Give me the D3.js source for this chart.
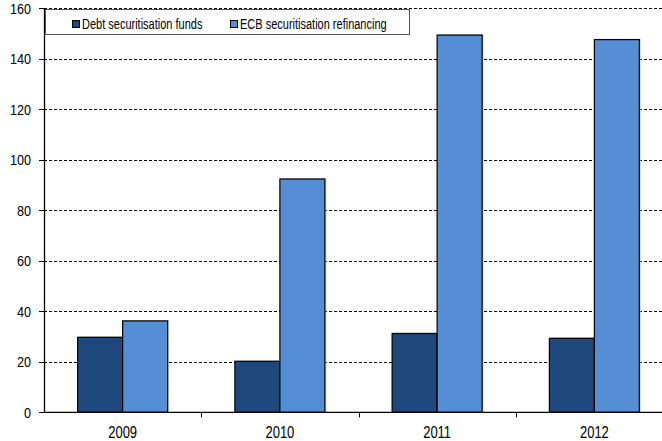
<!DOCTYPE html>
<html><head><meta charset="utf-8">
<script src="https://cdn.jsdelivr.net/npm/d3@7"></script>
<style>body{margin:0;background:#fff}svg{display:block;font-family:"Liberation Sans",Arial,sans-serif}</style>
</head><body><svg id="c" width="662" height="441"></svg>
<script>
const categories = ["2009","2010","2011","2012"];
const seriesNames = ["Debt securitisation funds","ECB securitisation refinancing"];
const debtFunds = [29.7, 20.2, 31.2, 29.3];
const ecbRefinancing = [36.2, 92.4, 149.4, 147.6];
const yTicks = [0,20,40,60,80,100,120,140,160];
const colors = ["#1f497d","#558ed5"];

const svg = d3.select("#c");
const x = d3.scaleBand().domain(categories).range([44, 673]);
const y = d3.scaleLinear().domain([0,160]).range([412.3, 8.3]);
const x1 = d3.scaleBand().domain([0,1]).range([0, 90]);
const series = [debtFunds, ecbRefinancing];

function stretchedText(g, tx, ty, str, size, anchor, sy){
  return g.append("text").attr("transform",`translate(${tx},${ty}) scale(1,${sy})`)
    .attr("font-size",size).attr("text-anchor",anchor).attr("fill","#000").text(str);
}

// gridlines
svg.append("g").selectAll("line").data(yTicks.filter(d=>d>0)).join("line")
  .attr("x1",44).attr("x2",662).attr("y1",d=>Math.round(y(d))+0.5).attr("y2",d=>Math.round(y(d))+0.5)
  .attr("stroke","#000").attr("stroke-width",1).attr("stroke-dasharray","3,2");

// bars
categories.forEach((c,i)=>{
  const gx = x(c) + (x.bandwidth()-90)/2;
  series.forEach((s,j)=>{
    const bx = gx + x1(j), by = y(s[i]), bw = x1.bandwidth(), bh = y(0)-y(s[i]);
    svg.append("rect").attr("x",bx+1.5).attr("y",by-1).attr("width",bw).attr("height",bh+1)
      .attr("fill","#bbb").attr("opacity",0.6);
    svg.append("rect").attr("x",bx).attr("y",by).attr("width",bw).attr("height",bh)
      .attr("fill",colors[j]).attr("stroke","#000").attr("stroke-width",1.2);
  });
});

// y axis
const gy = svg.append("g");
gy.append("line").attr("x1",44.5).attr("x2",44.5).attr("y1",y(160)).attr("y2",y(0)).attr("stroke","#000").attr("stroke-width",1.3);
yTicks.forEach(t=>{
  const py = Math.round(y(t))+0.5;
  gy.append("line").attr("x1",39).attr("x2",44.5).attr("y1",py).attr("y2",py).attr("stroke","#000");
  stretchedText(gy, 31, y(t)+5.3, String(t), 12.6, "end", 1.22);
});

// x axis
const gxa = svg.append("g").attr("transform",`translate(0,${y(0)})`);
gxa.append("line").attr("x1",44).attr("x2",662).attr("stroke","#000").attr("stroke-width",1.3);
categories.slice(1).forEach(d=>{
  const px = Math.round(x(d))+0.5;
  gxa.append("line").attr("x1",px).attr("x2",px).attr("y1",0).attr("y2",5).attr("stroke","#000");
});
categories.forEach(d=>{
  stretchedText(svg, x(d)+x.bandwidth()/2, 438.2, d, 13, "middle", 1.3);
});

// legend
const lg = svg.append("g");
lg.append("rect").attr("x",45.5).attr("y",9.5).attr("width",364).attr("height",25)
  .attr("fill","#fff").attr("stroke","#555").attr("stroke-width",1);
const items = [{n:seriesNames[0],x:72,c:colors[0]},{n:seriesNames[1],x:230,c:colors[1]}];
items.forEach(it=>{
  lg.append("rect").attr("x",it.x+0.5).attr("y",20.5).attr("width",7).attr("height",7)
    .attr("fill",it.c).attr("stroke","#000").attr("stroke-width",1);
  stretchedText(lg, it.x+10, 28.5, it.n, 11, "start", 1.3);
});
</script></body></html>
